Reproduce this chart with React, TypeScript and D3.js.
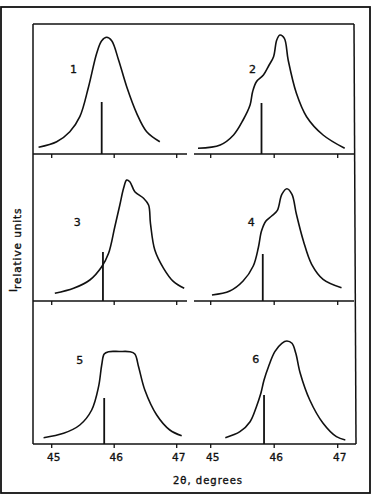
import React from "react";
import * as d3 from "d3";

// Diffraction profiles, 2θ in degrees vs intensity in relative units
const curve1: [number, number][] = [
  [44.79, 6.7], [45.08, 12.3], [45.29, 22.3], [45.45, 37.3], [45.59, 67.3], [45.72, 100.7],
  [45.8, 113.3], [45.88, 116.7], [45.96, 113.3], [46.07, 94], [46.2, 67.3], [46.36, 40.7],
  [46.52, 22.3], [46.73, 12.3],
];
const curve2: [number, number][] = [
  [44.8, 5.7], [45.15, 9], [45.36, 19], [45.51, 34], [45.62, 49], [45.66, 62.3], [45.72, 72.3],
  [45.83, 79], [45.92, 89], [45.99, 97.3], [46.04, 114], [46.09, 119], [46.16, 115.7],
  [46.22, 94], [46.35, 60.7], [46.51, 37.3], [46.77, 19], [47.11, 5.7],
];
const curve3: [number, number][] = [
  [45.05, 7.7], [45.35, 12.7], [45.61, 21], [45.8, 34.3], [45.91, 47.7], [46.01, 74.3],
  [46.09, 96], [46.15, 112.7], [46.2, 121], [46.25, 119.3], [46.33, 109.3], [46.47, 102.7],
  [46.55, 96], [46.58, 77.7], [46.65, 51], [46.79, 32.7], [46.95, 19.3], [47.12, 12.7],
];
const curve4: [number, number][] = [
  [45.02, 6], [45.3, 10], [45.51, 20], [45.67, 35], [45.75, 53.3], [45.8, 70], [45.87, 80],
  [45.96, 85], [46.05, 90.7], [46.12, 106.7], [46.2, 112.3], [46.28, 106.7], [46.35, 86.7],
  [46.46, 60], [46.59, 36.7], [46.77, 21.7], [47.06, 13.3],
];
const curve5: [number, number][] = [
  [44.87, 6.3], [45.19, 10.7], [45.45, 19], [45.64, 34], [45.75, 57.3], [45.8, 79], [45.84, 90],
  [45.91, 92.3], [46.08, 92.5], [46.25, 92.3], [46.33, 90], [46.39, 77.3], [46.49, 54],
  [46.68, 29], [46.89, 14], [47.08, 8.3],
];
const curve6: [number, number][] = [
  [45.23, 6.3], [45.46, 12.3], [45.62, 22.3], [45.72, 37.3], [45.79, 50.7], [45.84, 64],
  [45.91, 77.3], [46.01, 92.3], [46.12, 100.7], [46.2, 103], [46.28, 100.7], [46.34, 90.7],
  [46.41, 70.7], [46.56, 44], [46.77, 20.7], [46.98, 7.3], [47.12, 4],
];

const curves = [curve1, curve2, curve3, curve4, curve5, curve6];
const curveLabels = ["1", "2", "3", "4", "5", "6"];
const labelPos: [number, number][] = [
  [45.35, 84], [45.66, 84], [45.41, 78], [45.64, 78], [45.45, 83], [45.71, 84],
];
// Reference line position and height for each profile
const stickPos = [45.8, 45.8, 45.82, 45.82, 45.84, 45.84];
const stickHeight = [52, 51, 49, 47, 46, 49];

const xTicks = [45, 46, 47];
const xTitle = "2θ, degrees";
const yTitleMain = "I";
const yTitleSub = "relative units";

const W = 374;
const H = 496;
const plotTop = 24;
const plotLeft = 33;
const plotRight = 354;
const rowBase = [154, 301, 444];
const colRange: [number, number][] = [
  [51.7, 176.7],
  [210.7, 337.7],
];
const colSpan: [number, number][] = [
  [plotLeft, 187],
  [194, plotRight],
];

export default function App() {
  const font = "'DejaVu Sans', sans-serif";
  const ink = "#111";
  const textStroke = { stroke: ink, strokeWidth: 0.35 };
  const panels = curves.map((data, i) => {
    const col = i % 2;
    const row = Math.floor(i / 2);
    const x = d3.scaleLinear().domain([45, 47]).range(colRange[col]);
    const y = d3.scaleLinear().domain([0, 100]).range([rowBase[row], rowBase[row] - 100]);
    const line = d3
      .line<[number, number]>()
      .x((d) => x(d[0]))
      .y((d) => y(d[1]))
      .curve(d3.curveCatmullRom.alpha(0.5));
    return { data, col, row, x, y, path: line(data) || "" };
  });

  return (
    <svg
      width={W}
      height={H}
      style={{ position: "absolute", left: 0, top: 0, background: "#fff" }}
    >
      {/* outer frame */}
      <rect x={1} y={7} width={369} height={486} fill="none" stroke={ink} strokeWidth={1.8} />
      {/* plot box */}
      <line x1={plotLeft} y1={plotTop} x2={plotRight} y2={plotTop} stroke={ink} strokeWidth={1.5} />
      <line x1={plotLeft} y1={plotTop} x2={plotLeft} y2={rowBase[2]} stroke={ink} strokeWidth={1.5} />
      <line x1={plotRight} y1={plotTop} x2={plotRight + 2} y2={rowBase[2]} stroke={ink} strokeWidth={1.5} />
      {/* baselines */}
      {[0, 1].map((r) =>
        colSpan.map((s, c) => (
          <line key={`b${r}${c}`} x1={s[0]} y1={rowBase[r]} x2={s[1]} y2={rowBase[r]} stroke={ink} strokeWidth={1.5} />
        ))
      )}
      <line x1={plotLeft} y1={rowBase[2]} x2={plotRight + 2} y2={rowBase[2]} stroke={ink} strokeWidth={1.5} />
      {panels.map((p, i) => (
        <g key={i}>
          {xTicks.map((t) => (
            <line key={t} x1={p.x(t)} x2={p.x(t)} y1={rowBase[p.row]} y2={rowBase[p.row] + 4} stroke={ink} strokeWidth={1.3} />
          ))}
          <path d={p.path} fill="none" stroke={ink} strokeWidth={1.6} />
          <line
            x1={p.x(stickPos[i])}
            x2={p.x(stickPos[i])}
            y1={p.y(0)}
            y2={p.y(stickHeight[i])}
            stroke={ink}
            strokeWidth={1.8}
          />
          <text
            x={p.x(labelPos[i][0])}
            y={p.y(labelPos[i][1])}
            fontFamily={font}
            fontSize={11}
            textAnchor="middle"
            dominantBaseline="middle"
            fill={ink}
            {...textStroke}
          >
            {curveLabels[i]}
          </text>
          {p.row === 2 &&
            xTicks.map((t) => (
              <text
                key={`l${t}`}
                x={p.x(t) + 2}
                y={rowBase[2] + 17}
                fontFamily={font}
                fontSize={10.5}
                textAnchor="middle"
                fill={ink}
                {...textStroke}
              >
                {t}
              </text>
            ))}
        </g>
      ))}
      <text x={208} y={484} fontFamily={font} fontSize={10} letterSpacing={1} textAnchor="middle" fill={ink} {...textStroke}>
        {xTitle}
      </text>
      <text transform="translate(17,292) rotate(-90)" fontFamily={font} fontSize={10.5} fill={ink} {...textStroke}>
        <tspan>{yTitleMain}</tspan>
        <tspan dy={4} letterSpacing={0.9}>{yTitleSub}</tspan>
      </text>
    </svg>
  );
}
